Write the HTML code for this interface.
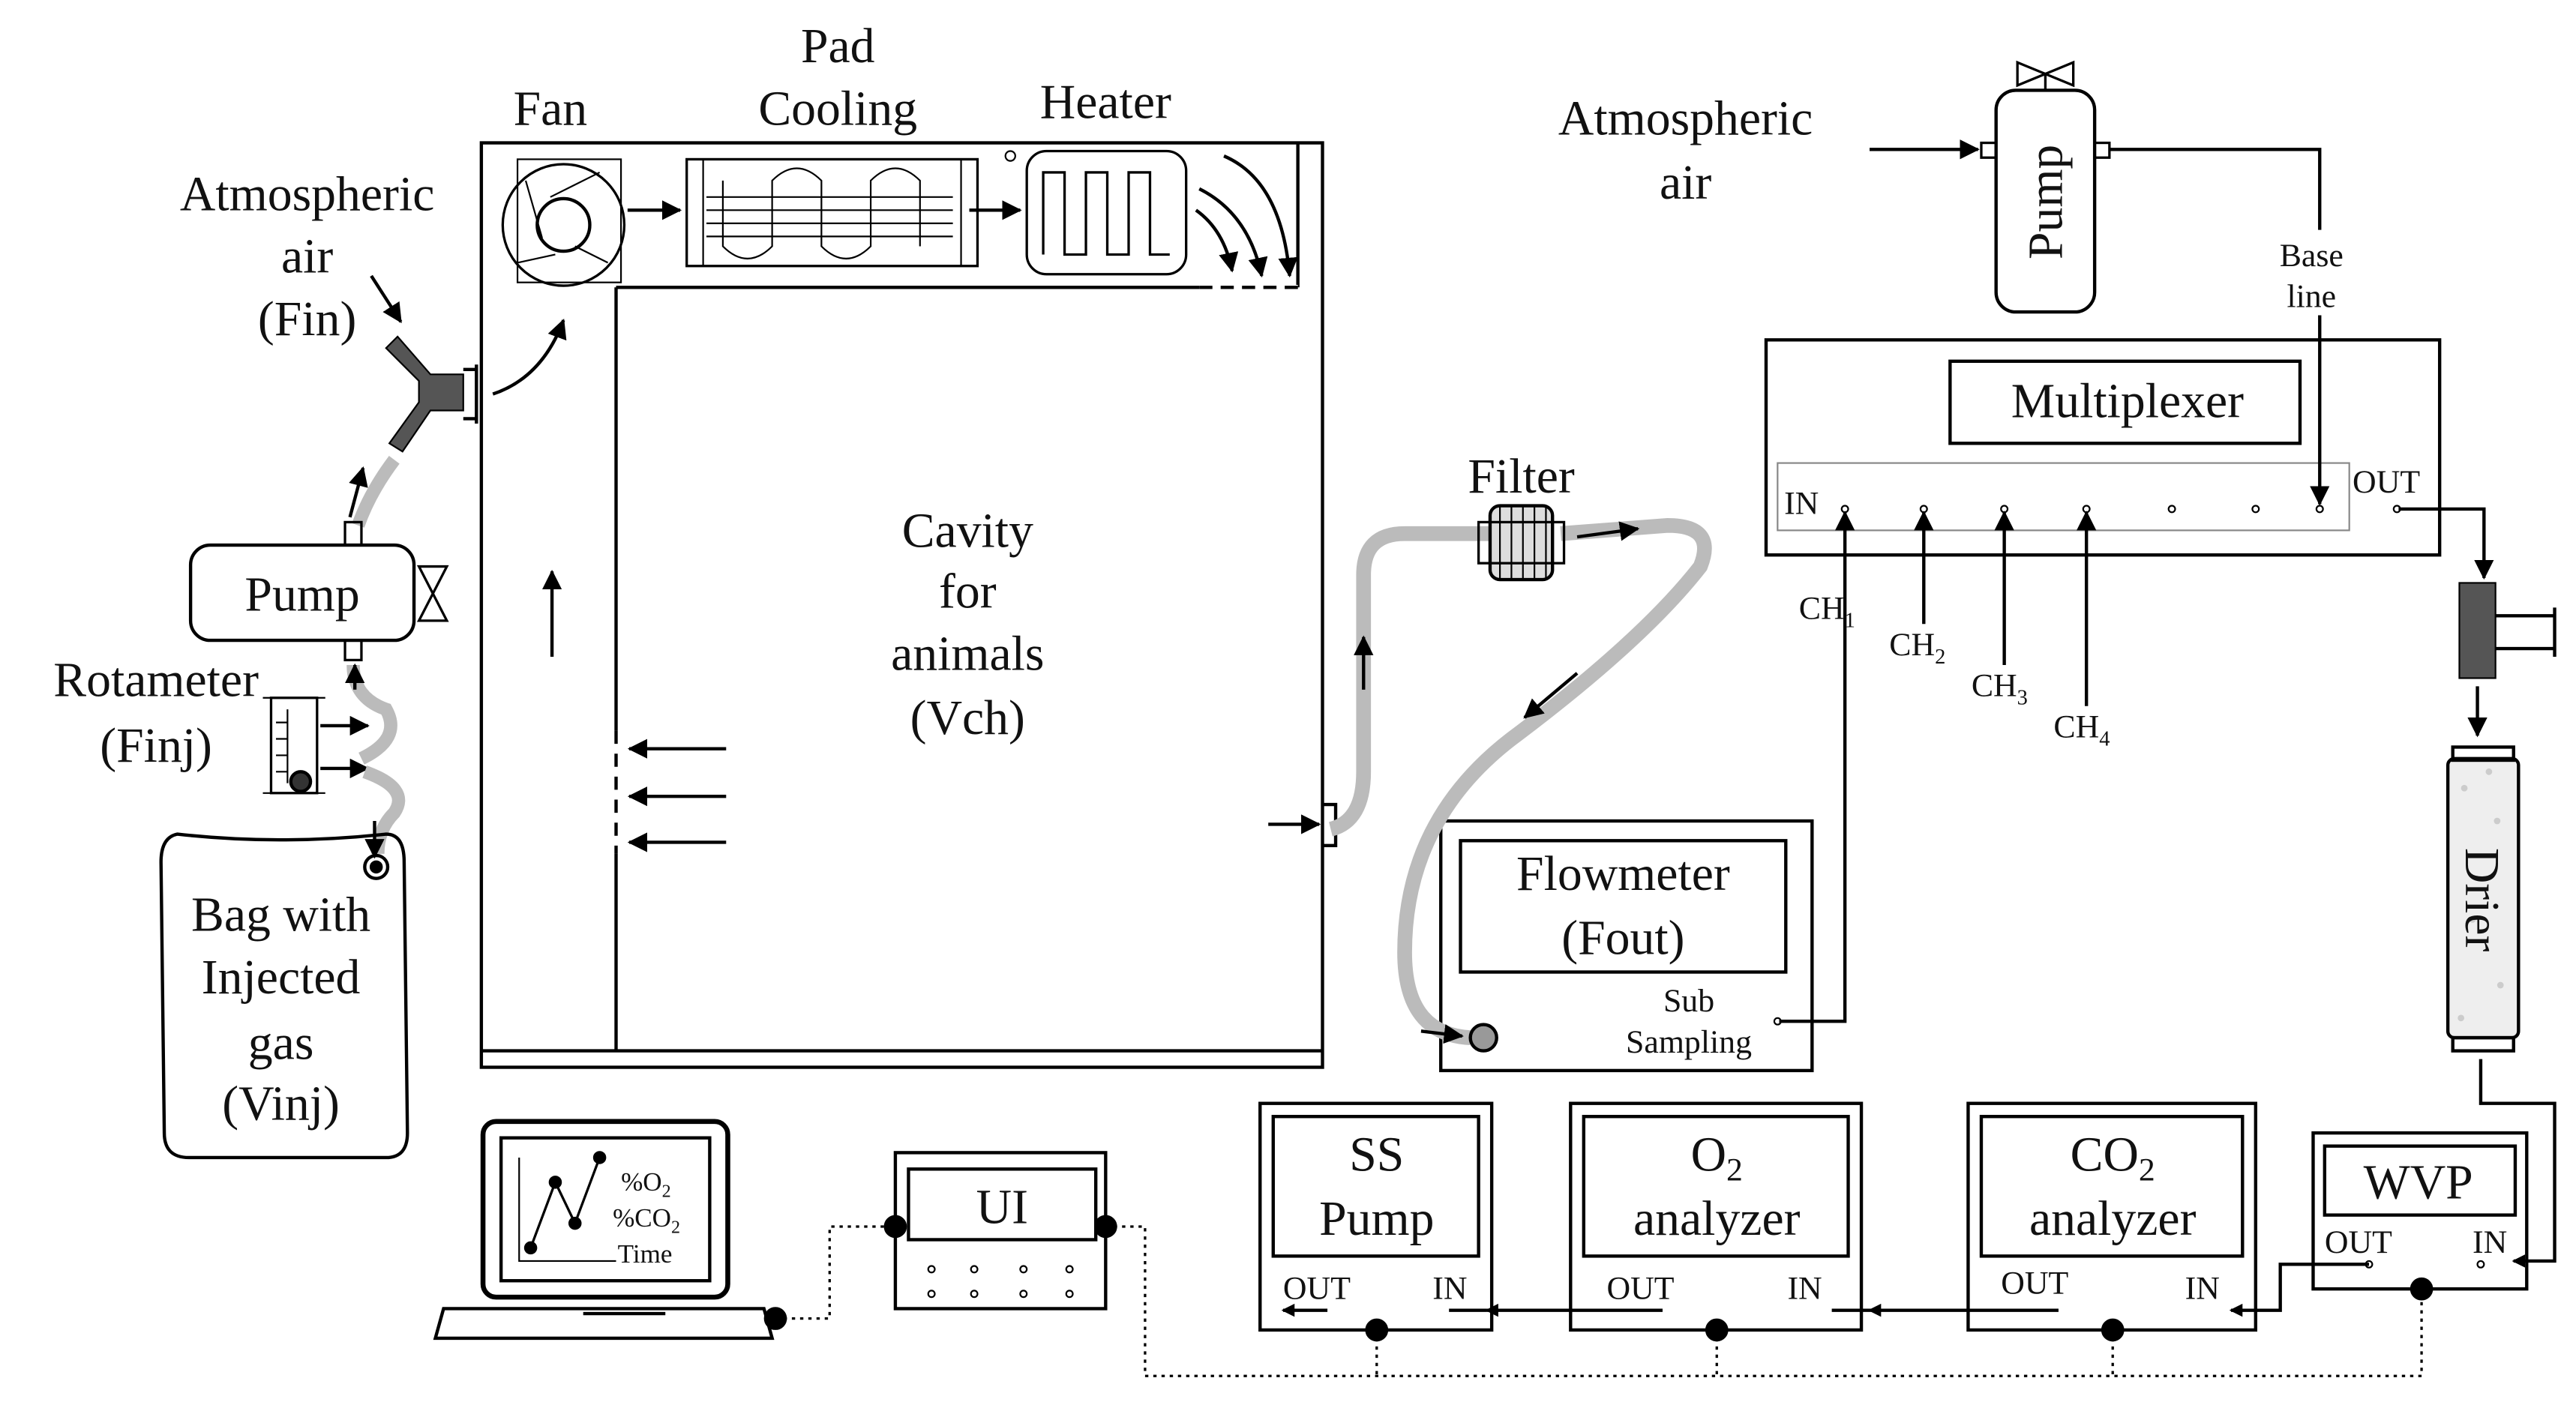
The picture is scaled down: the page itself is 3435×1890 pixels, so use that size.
<!DOCTYPE html>
<html><head><meta charset="utf-8"><style>
html,body{margin:0;padding:0;background:#fff;}
svg{display:block;}
text{font-family:"Liberation Serif",serif;fill:#111;}
</style></head><body>
<svg width="3435" height="1890" viewBox="0 0 1568 863" preserveAspectRatio="none" xmlns="http://www.w3.org/2000/svg">
<defs>
<marker id="a" markerWidth="8" markerHeight="8" refX="7" refY="4" orient="auto" markerUnits="userSpaceOnUse" viewBox="0 0 8 8"><path d="M0,0 L8,4 L0,8 z" fill="#000"/></marker>
<marker id="b" markerWidth="12" markerHeight="12" refX="11" refY="6" orient="auto" markerUnits="userSpaceOnUse" viewBox="0 0 12 12"><path d="M0,0 L12,6 L0,12 z" fill="#000"/></marker>
</defs>
<g fill="none" stroke="#000" stroke-width="2">
<rect x="293" y="87" width="512" height="563"/>
<line x1="375" y1="175" x2="790" y2="175"/>
<line x1="375" y1="175" x2="375" y2="640"/>
<line x1="293" y1="640" x2="805" y2="640"/>
<line x1="790" y1="87" x2="790" y2="175"/>
<line x1="375" y1="445" x2="375" y2="520" stroke="#fff" stroke-width="3"/>
<line x1="375" y1="445" x2="375" y2="520" stroke-dasharray="8,6"/>
<line x1="730" y1="175" x2="790" y2="175" stroke="#fff" stroke-width="3"/>
<line x1="730" y1="175" x2="790" y2="175" stroke-dasharray="8,5"/>
<rect x="315" y="97" width="63" height="75" stroke-width="1"/>
<circle cx="343" cy="137" r="37" stroke-width="1.5"/>
<circle cx="343" cy="137" r="16"/>
<path d="M320,110 L330,145 M365,105 L335,120 M370,160 L350,150 M315,160 L338,155" stroke-width="1"/>
<rect x="418" y="97" width="177" height="65" stroke-width="1.5"/>
<line x1="428" y1="97" x2="428" y2="162" stroke-width="1"/>
<line x1="585" y1="97" x2="585" y2="162" stroke-width="1"/>
<path d="M440,110 L440,150 Q455,165 470,150 L470,110 Q485,95 500,110 L500,150 Q515,165 530,150 L530,110 Q545,95 560,110 L560,150" stroke-width="1"/>
<path d="M430,120 H580 M430,128 H580 M430,136 H580 M430,144 H580" stroke-width="1"/>
<rect x="625" y="92" width="97" height="75" rx="12" stroke-width="1.5"/>
<path d="M635,155 V105 H648 V155 H661 V105 H674 V155 H687 V105 H700 V155 H712" stroke-width="1.5"/>
<circle cx="615" cy="95" r="3" stroke-width="1"/>
<line x1="382" y1="128" x2="414" y2="128" marker-end="url(#b)"/>
<line x1="590" y1="128" x2="621" y2="128" marker-end="url(#b)"/>
<path d="M728,128 Q745,140 750,165" marker-end="url(#b)"/>
<path d="M730,115 Q760,130 768,168" marker-end="url(#b)"/>
<path d="M745,95 Q780,110 785,168" marker-end="url(#b)"/>
<path d="M300,240 Q330,230 343,195" marker-end="url(#b)"/>
<line x1="336" y1="400" x2="336" y2="348" marker-end="url(#b)"/>
<line x1="442" y1="456" x2="383" y2="456" marker-end="url(#b)"/>
<line x1="442" y1="485" x2="383" y2="485" marker-end="url(#b)"/>
<line x1="442" y1="513" x2="383" y2="513" marker-end="url(#b)"/>
<line x1="772" y1="502" x2="803" y2="502" marker-end="url(#b)"/>
<path d="M805,490 h8 v25 h-8"/>
<line x1="226" y1="168" x2="244" y2="196" marker-end="url(#b)"/>
<path d="M242,205 L262,228 L282,228 L282,250 L262,250 L245,275 L237,270 L255,245 L255,232 L235,212 z" fill="#555" stroke-width="1"/>
<path d="M282,225 h8 v30 h-8 M290,222 v36"/>
<path d="M240,280 Q225,300 218,320" stroke="#bbb" stroke-width="8"/>
<line x1="213" y1="315" x2="221" y2="285" marker-end="url(#b)"/>
<rect x="210" y="318" width="10" height="14" stroke-width="1.5"/>
<rect x="116" y="332" width="136" height="58" rx="12"/>
<path d="M255,345 L272,345 L255,378 L272,378 z" stroke-width="1.5"/>
<rect x="210" y="390" width="10" height="12" stroke-width="1.5"/>
<path d="M215,405 Q215,425 235,432 Q245,450 220,462" stroke="#bbb" stroke-width="8"/>
<line x1="216" y1="420" x2="216" y2="405" marker-end="url(#b)"/>
<rect x="165" y="425" width="28" height="58" stroke-width="1.5"/>
<path d="M160,425 h38 M160,483 h38 M175,432 v45 M168,440 h7 M168,450 h7 M168,460 h7 M168,470 h7" stroke-width="1"/>
<circle cx="183" cy="476" r="6" fill="#333"/>
<line x1="195" y1="442" x2="224" y2="442" marker-end="url(#b)"/>
<line x1="195" y1="468" x2="224" y2="468" marker-end="url(#b)"/>
<path d="M222,470 Q250,480 240,495 Q230,505 230,520" stroke="#bbb" stroke-width="8"/>
<line x1="228" y1="500" x2="228" y2="522" marker-end="url(#b)"/>
<circle cx="229" cy="528" r="7"/><circle cx="229" cy="528" r="3" fill="#000"/>
<path d="M108,508 Q98,510 98,525 L100,690 Q100,705 115,705 L235,705 Q248,705 248,690 L246,525 Q246,508 235,508 Q170,515 108,508 z"/>
<rect x="294" y="683" width="149" height="107" rx="8" stroke-width="3"/>
<rect x="305" y="693" width="127" height="87"/>
<path d="M270,797 H465 L470,815 H265 z M355,800 h50" stroke-width="2"/>
<path d="M316,705 V768 H375" stroke-width="1"/>
<path d="M323,760 L338,720 L350,745 L365,705" stroke-width="1.5"/>
<circle cx="338" cy="720" r="3" fill="#000"/><circle cx="350" cy="745" r="3" fill="#000"/><circle cx="365" cy="705" r="3" fill="#000"/><circle cx="323" cy="760" r="3" fill="#000"/>
<rect x="545" y="702" width="128" height="95"/>
<rect x="553" y="712" width="114" height="43"/>
<g stroke-width="1"><circle cx="567" cy="773" r="2"/><circle cx="593" cy="773" r="2"/><circle cx="623" cy="773" r="2"/><circle cx="651" cy="773" r="2"/><circle cx="567" cy="788" r="2"/><circle cx="593" cy="788" r="2"/><circle cx="623" cy="788" r="2"/><circle cx="651" cy="788" r="2"/></g>
<g stroke-dasharray="2,3" stroke-width="1.5">
<path d="M472,803 H505 V747 H545"/>
<path d="M673,747 H697 V838 H1474 V785"/>
<path d="M838,810 V838 M1045,810 V838 M1286,810 V838"/>
</g>
<circle cx="472" cy="803" r="6" fill="#000"/>
<circle cx="545" cy="747" r="6" fill="#000"/>
<circle cx="673" cy="747" r="6" fill="#000"/>
<circle cx="838" cy="810" r="6" fill="#000"/>
<circle cx="1045" cy="810" r="6" fill="#000"/>
<circle cx="1286" cy="810" r="6" fill="#000"/>
<circle cx="1474" cy="785" r="6" fill="#000"/>
<rect x="767" y="672" width="141" height="138"/><rect x="775" y="680" width="125" height="85"/>
<rect x="956" y="672" width="177" height="138"/><rect x="964" y="680" width="161" height="85"/>
<rect x="1198" y="672" width="175" height="138"/><rect x="1206" y="680" width="159" height="85"/>
<rect x="1408" y="690" width="130" height="95"/><rect x="1415" y="698" width="116" height="42"/>
<line x1="808" y1="798" x2="781" y2="798" marker-end="url(#a)"/>
<path d="M1012,798 H905" marker-end="url(#a)"/><path d="M882,798 H905"/>
<path d="M1253,798 H1138" marker-end="url(#a)"/><path d="M1115,798 H1138"/>
<path d="M1442,770 H1388 V798 H1358" marker-end="url(#a)"/>
<path d="M1510,645 V672 H1555 V768 H1530" marker-end="url(#a)"/>
<circle cx="1442" cy="770" r="2" stroke-width="1"/><circle cx="1510" cy="770" r="2" stroke-width="1"/>
<rect x="877" y="500" width="226" height="152"/>
<rect x="889" y="512" width="198" height="80"/>
<path d="M1083,622 H1123 V366"/>
<circle cx="1082" cy="622" r="2" stroke-width="1"/>
<path d="M810,505 Q830,500 830,470 L830,350 Q830,325 855,325 L910,325 M950,325 L1015,320 Q1045,320 1035,345 Q1000,390 920,450 Q855,500 855,580 Q855,630 895,632" stroke="#bbb" stroke-width="9"/>
<line x1="830" y1="420" x2="830" y2="388" marker-end="url(#b)"/>
<line x1="960" y1="327" x2="997" y2="322" marker-end="url(#b)"/>
<line x1="960" y1="410" x2="928" y2="437" marker-end="url(#b)"/>
<line x1="865" y1="628" x2="890" y2="631" marker-end="url(#b)"/>
<circle cx="903" cy="632" r="8" fill="#999"/>
<rect x="907" y="308" width="38" height="45" rx="6" fill="#ddd"/>
<rect x="900" y="318" width="52" height="25" stroke-width="1.5"/>
<path d="M913,308 v45 M920,308 v45 M927,308 v45 M934,308 v45 M941,308 v45" stroke-width="1"/>
<rect x="1075" y="207" width="410" height="131"/>
<rect x="1187" y="220" width="213" height="50"/>
<rect x="1082" y="282" width="348" height="41" stroke="#888" stroke-width="1"/>
<g stroke-width="1"><circle cx="1123" cy="310" r="2"/><circle cx="1171" cy="310" r="2"/><circle cx="1220" cy="310" r="2"/><circle cx="1270" cy="310" r="2"/><circle cx="1322" cy="310" r="2"/><circle cx="1373" cy="310" r="2"/><circle cx="1412" cy="310" r="2"/><circle cx="1459" cy="310" r="2"/></g>
<line x1="1123" y1="366" x2="1123" y2="312" marker-end="url(#b)"/>
<line x1="1171" y1="380" x2="1171" y2="312" marker-end="url(#b)"/>
<line x1="1220" y1="405" x2="1220" y2="312" marker-end="url(#b)"/>
<line x1="1270" y1="430" x2="1270" y2="312" marker-end="url(#b)"/>
<path d="M1460,310 H1512 V352" marker-end="url(#b)"/>
<rect x="1497" y="355" width="22" height="58" fill="#555" stroke-width="1"/>
<path d="M1519,375 H1555 M1519,395 H1555 M1555,370 V400" />
<line x1="1508" y1="418" x2="1508" y2="448" marker-end="url(#b)"/>
<rect x="1490" y="462" width="43" height="170" rx="4" fill="#eee"/>
<rect x="1493" y="455" width="37" height="8"/><rect x="1493" y="632" width="37" height="8"/>
<rect x="1215" y="55" width="60" height="135" rx="12"/>
<path d="M1228,38 L1262,52 L1262,38 L1228,52 z M1245,45 V55" stroke-width="1.5"/>
<rect x="1206" y="87" width="9" height="9" stroke-width="1.5"/><rect x="1275" y="87" width="9" height="9" stroke-width="1.5"/>
<line x1="1138" y1="91" x2="1204" y2="91" marker-end="url(#b)"/>
<path d="M1284,91 H1412 V140"/>
<line x1="1412" y1="192" x2="1412" y2="307" marker-end="url(#b)"/>
</g>
<g fill="#ccc"><circle cx="1500" cy="480" r="2"/><circle cx="1520" cy="500" r="2"/><circle cx="1505" cy="560" r="2"/><circle cx="1522" cy="600" r="2"/><circle cx="1498" cy="620" r="2"/><circle cx="1515" cy="470" r="2"/></g>
<g font-size="30" text-anchor="middle">
<text x="335" y="76">Fan</text>
<text x="510" y="38">Pad</text><text x="510" y="76">Cooling</text>
<text x="673" y="72">Heater</text>
<text x="187" y="128">Atmospheric</text><text x="187" y="166">air</text><text x="187" y="204">(Fin)</text>
<text x="184" y="372">Pump</text>
<text x="95" y="424">Rotameter</text><text x="95" y="464">(Finj)</text>
<text x="171" y="567">Bag with</text><text x="171" y="605">Injected</text><text x="171" y="645">gas</text><text x="171" y="682">(Vinj)</text>
<text x="589" y="333">Cavity</text><text x="589" y="370">for</text><text x="589" y="408">animals</text><text x="589" y="447">(Vch)</text>
<text x="926" y="300">Filter</text>
<text x="988" y="542">Flowmeter</text><text x="988" y="581">(Fout)</text>
<text x="1026" y="82">Atmospheric</text><text x="1026" y="121">air</text>
<text x="1295" y="254">Multiplexer</text>
<text x="610" y="745">UI</text>
<text x="838" y="713">SS</text><text x="838" y="752">Pump</text>
<text x="1045" y="713">O<tspan font-size="20" dy="6">2</tspan></text><text x="1045" y="752">analyzer</text>
<text x="1286" y="713">CO<tspan font-size="20" dy="6">2</tspan></text><text x="1286" y="752">analyzer</text>
<text x="1472" y="730">WVP</text>
</g>
<text x="1245" y="123" font-size="30" text-anchor="middle" transform="rotate(-90 1245 123)" dy="10">Pump</text>
<text x="1511" y="548" font-size="30" text-anchor="middle" transform="rotate(90 1511 548)" dy="10">Drier</text>
<g font-size="20">
<text x="1407" y="162" text-anchor="middle">Base</text><text x="1407" y="187" text-anchor="middle">line</text>
<text x="1086" y="313">IN</text><text x="1432" y="300">OUT</text>
<text x="1095" y="377">CH<tspan font-size="13" dy="5">1</tspan></text>
<text x="1150" y="399">CH<tspan font-size="13" dy="5">2</tspan></text>
<text x="1200" y="424">CH<tspan font-size="13" dy="5">3</tspan></text>
<text x="1250" y="449">CH<tspan font-size="13" dy="5">4</tspan></text>
<text x="1028" y="616" text-anchor="middle">Sub</text><text x="1028" y="641" text-anchor="middle">Sampling</text>
<text x="781" y="791">OUT</text><text x="872" y="791">IN</text>
<text x="978" y="791">OUT</text><text x="1088" y="791">IN</text>
<text x="1218" y="788">OUT</text><text x="1330" y="791">IN</text>
<text x="1415" y="763">OUT</text><text x="1505" y="763">IN</text>
<text x="378" y="725" font-size="16">%O<tspan font-size="11" dy="4">2</tspan></text>
<text x="373" y="747" font-size="16">%CO<tspan font-size="11" dy="4">2</tspan></text>
<text x="376" y="769" font-size="16">Time</text>
</g>
</svg>
</body></html>
